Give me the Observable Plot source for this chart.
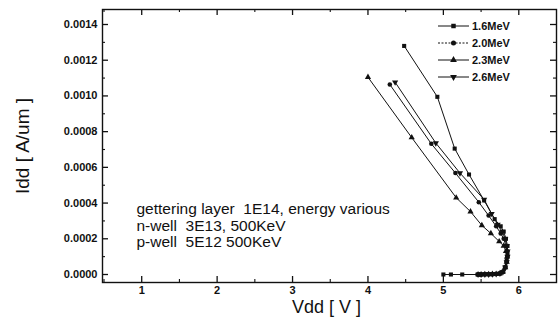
<!DOCTYPE html>
<html>
<head>
<meta charset="utf-8">
<script src="https://cdn.jsdelivr.net/npm/d3@7"></script>
<script src="https://cdn.jsdelivr.net/npm/@observablehq/plot@0.6"></script>
<style>
  html, body { margin: 0; padding: 0; background: #fff; }
  #wrap { position: relative; width: 559px; height: 322px; }
  #legend { position: absolute; left: 0; top: 0; pointer-events: none; }
</style>
</head>
<body>
<div id="wrap"></div>
<script>
// ---- data ----
const seriesNames = ["1.6MeV", "2.0MeV", "2.3MeV", "2.6MeV"];

const vdd16 = [4.48, 4.92, 5.15, 5.34, 5.54, 5.68, 5.76, 5.80, 5.83, 5.85, 5.85, 5.84, 5.82, 5.79, 5.75, 5.70, 5.65, 5.60, 5.55, 5.50, 5.46, 5.25, 5.10, 5.00];
const idd16 = [0.00128, 0.000995, 0.000705, 0.00056, 0.000415, 0.00031, 0.00027, 0.00024, 0.0002, 0.00016, 0.00012, 0.00008, 0.00004, 0.000015, 0.000006, 0.000003, 0.000002, 0.000001, 0.000001, 0, 0, 0, 0, 0];

const vdd20 = [4.29, 4.84, 5.16, 5.47, 5.60, 5.70, 5.76, 5.80, 5.83, 5.845, 5.85, 5.84, 5.82, 5.79, 5.75, 5.70, 5.65, 5.60, 5.55, 5.50, 5.46];
const idd20 = [0.001064, 0.000732, 0.000568, 0.000405, 0.00033, 0.00027, 0.00023, 0.0002, 0.00016, 0.00013, 0.0001, 0.00007, 0.00004, 0.000015, 0.000006, 0.000003, 0.000002, 0.000001, 0.000001, 0, 0];

const vdd23 = [4.00, 4.58, 5.17, 5.36, 5.51, 5.63, 5.74, 5.80, 5.83, 5.845, 5.84, 5.82, 5.79, 5.75, 5.70, 5.65, 5.60, 5.55, 5.50, 5.46];
const idd23 = [0.001105, 0.000767, 0.00043, 0.000352, 0.000275, 0.00023, 0.000185, 0.00016, 0.00013, 0.0001, 0.00007, 0.00004, 0.000015, 0.000006, 0.000003, 0.000002, 0.000001, 0.000001, 0, 0];

const vdd26 = [4.36, 4.90, 5.22, 5.54, 5.64, 5.72, 5.78, 5.82, 5.84, 5.85, 5.85, 5.84, 5.82, 5.79, 5.75, 5.70, 5.65, 5.60, 5.55, 5.50, 5.46];
const idd26 = [0.001077, 0.000736, 0.000568, 0.00042, 0.00034, 0.00028, 0.00024, 0.0002, 0.00016, 0.00013, 0.0001, 0.00007, 0.00004, 0.000015, 0.000006, 0.000003, 0.000002, 0.000001, 0.000001, 0, 0];

const xTicks = [1, 2, 3, 4, 5, 6];
const xMinor = [0.5, 1.5, 2.5, 3.5, 4.5, 5.5];
const yTicks = [0, 0.0002, 0.0004, 0.0006, 0.0008, 0.0010, 0.0012, 0.0014];
const yMinor = [0.0001, 0.0003, 0.0005, 0.0007, 0.0009, 0.0011, 0.0013];

const noteLines = ["gettering layer \u00a01E14, energy various", "n-well \u00a03E13, 500KeV", "p-well \u00a05E12 500KeV"];
const xTitle = "Vdd [ V ]";
const yTitle = "Idd [ A/um ]";

// ---- build ----
const triangleDown = {
  draw(ctx, size) {
    const h = Math.sqrt(size / (Math.sqrt(3) / 4));
    const y = h * Math.sqrt(3) / 2;
    ctx.moveTo(0, y * 2 / 3);
    ctx.lineTo(h / 2, -y / 3);
    ctx.lineTo(-h / 2, -y / 3);
    ctx.closePath();
  }
};
const symbols = ["square", "circle", "triangle", triangleDown];
const raw = [[vdd16, idd16], [vdd20, idd20], [vdd23, idd23], [vdd26, idd26]];
const data = raw.map(([v, i], k) => v.map((vv, j) => ({series: seriesNames[k], v: vv, i: i[j]})));

const W = 559, H = 322;
const mL = 102, mR = 3, mT = 9, mB = 40;
const frameW = W - mL - mR, frameH = H - mT - mB;
const font = "Liberation Sans, Arial, Helvetica, sans-serif";

const marks = [];
data.forEach((d, k) => {
  marks.push(Plot.line(d, {x: "v", y: "i", stroke: "#111", strokeWidth: 1}));
  marks.push(Plot.dot(d, {x: "v", y: "i", symbol: symbols[k], r: 2.3, fill: "#111", stroke: "none"}));
});

const plot = Plot.plot({
  width: W, height: H,
  marginLeft: mL, marginRight: mR, marginTop: mT, marginBottom: mB,
  style: {fontFamily: font, background: "#fff", color: "#111"},
  x: {domain: [0.48, 6.5]},
  y: {domain: [-0.0000448, 0.001484]},
  marks: [
    ...marks,
    // ticks pointing inward on all four sides
    Plot.tickX(xTicks, {x: d => d, insetTop: frameH - 6, stroke: "#111", strokeWidth: 1.3}),
    Plot.tickX(xTicks, {x: d => d, insetBottom: frameH - 6, stroke: "#111", strokeWidth: 1.3}),
    Plot.tickX(xMinor, {x: d => d, insetTop: frameH - 3, stroke: "#111", strokeWidth: 1.1}),
    Plot.tickX(xMinor, {x: d => d, insetBottom: frameH - 3, stroke: "#111", strokeWidth: 1.1}),
    Plot.tickY(yTicks, {y: d => d, insetRight: frameW - 6, stroke: "#111", strokeWidth: 1.3}),
    Plot.tickY(yTicks, {y: d => d, insetLeft: frameW - 6, stroke: "#111", strokeWidth: 1.3}),
    Plot.tickY(yMinor, {y: d => d, insetRight: frameW - 3, stroke: "#111", strokeWidth: 1.1}),
    Plot.tickY(yMinor, {y: d => d, insetLeft: frameW - 3, stroke: "#111", strokeWidth: 1.1}),
    Plot.axisX(xTicks, {tickSize: 0, tickPadding: 4, fontSize: 11, fontWeight: "bold", label: null}),
    Plot.axisY(yTicks, {tickSize: 0, tickPadding: 5, fontSize: 11, fontWeight: "bold", label: null, tickFormat: d3.format(".4f")}),
    Plot.frame({stroke: "#111", strokeWidth: 1.4}),
    Plot.text([xTitle], {text: d => d, frameAnchor: "bottom", textAnchor: "middle", dx: -3, dy: 25, lineAnchor: "middle", fontSize: 18, fill: "#111"}),
    Plot.text([yTitle], {text: d => d, frameAnchor: "left", textAnchor: "middle", dx: -80, rotate: -90, lineAnchor: "middle", fontSize: 19, fill: "#111"}),
    Plot.text([noteLines.join("\n")], {text: d => d, frameAnchor: "bottom-left", textAnchor: "start", lineAnchor: "middle", dx: 34, dy: -57, fontSize: 15.5, lineHeight: 1.05, fill: "#111"})
  ]
});

const wrap = document.getElementById("wrap");
wrap.appendChild(plot);

// legend overlay
const leg = d3.select(wrap).append("svg").attr("id", "legend").attr("width", W).attr("height", H);
const rowY = [26, 43, 60, 77];
seriesNames.forEach((name, k) => {
  const g = leg.append("g").attr("transform", `translate(438,${rowY[k]})`);
  g.append("line").attr("x1", 0).attr("x2", 31).attr("y1", 0).attr("y2", 0)
    .attr("stroke", "#111").attr("stroke-width", 1).attr("stroke-dasharray", k === 1 ? "2,1.5" : null);
  const sym = typeof symbols[k] === "string"
    ? {square: d3.symbolSquare, circle: d3.symbolCircle, triangle: d3.symbolTriangle}[symbols[k]]
    : symbols[k];
  g.append("path").attr("transform", "translate(15.5,0)").attr("d", d3.symbol(sym, 20)()).attr("fill", "#111");
  g.append("text").attr("x", 34).attr("y", 0).attr("dy", "0.35em")
    .attr("font-family", font).attr("font-size", 11).attr("font-weight", "bold").attr("fill", "#111").text(name);
});
</script>
</body>
</html>
